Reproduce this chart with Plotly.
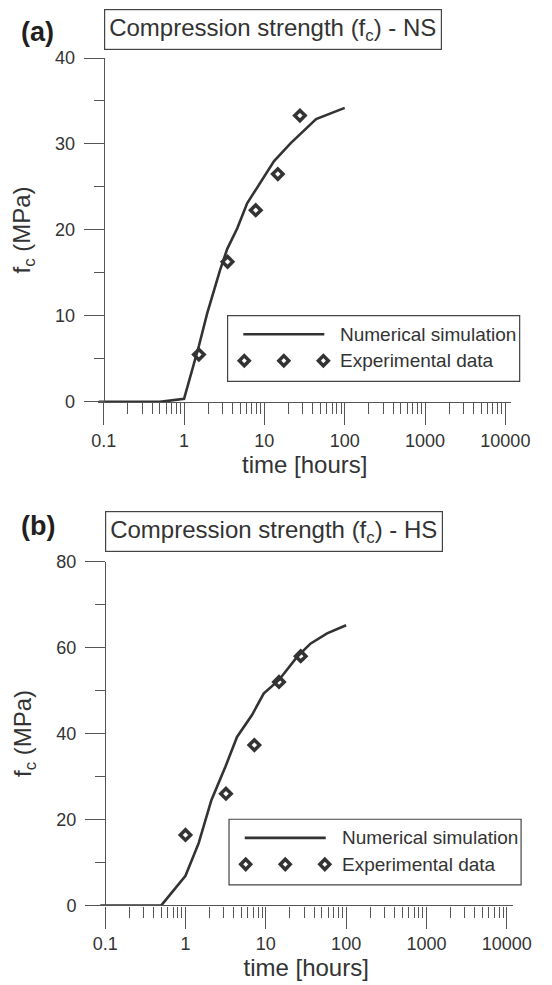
import plotly.graph_objects as go

W, H = 552, 985

# ---------------- data ----------------
ns_sim_t = [0.086, 0.5, 1.0, 1.53, 1.94, 2.8, 3.45, 4.6, 6.1, 8.2, 13.2, 21.3, 34.5, 44, 100]
ns_sim_fc = [0, 0, 0.35, 6.5, 10.3, 15.3, 17.8, 20.2, 23.1, 25.0, 28.0, 30.1, 31.9, 32.9, 34.2]
ns_exp_t = [1.53, 3.48, 7.8, 14.7, 27.7]
ns_exp_fc = [5.5, 16.3, 22.3, 26.5, 33.3]

hs_sim_t = [0.087, 0.5, 1.0, 1.46, 2.1, 3.13, 4.38, 6.73, 9.4, 14.5, 24.5, 35.9, 57.9, 100]
hs_sim_fc = [0, 0, 6.9, 14.5, 24.5, 32.2, 39.2, 44.3, 49.3, 52.4, 57.8, 60.9, 63.3, 65.2]
hs_exp_t = [1.0, 3.19, 7.2, 14.6, 27.2]
hs_exp_fc = [16.4, 26.0, 37.3, 52.0, 58.0]

x_tickvals = [0.1, 1, 10, 100, 1000, 10000]
x_ticktext = ["0.1", "1", "10", "100", "1000", "10000"]
x_minor = [m * 10 ** e for e in range(-1, 4) for m in range(2, 10)]
ns_y_ticks = [0, 10, 20, 30, 40]
hs_y_ticks = [0, 20, 40, 60, 80]

titles = ["Compression strength (f<sub>c</sub>) - NS", "Compression strength (f<sub>c</sub>) - HS"]
panel_labels = ["<b>(a)</b>", "<b>(b)</b>"]
legend_names = ["Numerical simulation", "Experimental data"]

# ---------------- styling / geometry ----------------
FONT = "Liberation Sans, Arial, sans-serif"
DARK = "#333333"
AX = "#555555"
DEC = 84.3  # px per decade


def fx(px):
    return px / W


def fy(py):
    return 1 - py / H


# panel geometry: px of 0.1 tick, px of y top (max), px of y=0, right end
panels = [
    dict(x01=101.5, ytop=49, y0=400, xright=529, ymax=40, yticks=ns_y_ticks, ydt=5,
         label_dy=-27, box_dy=-29),
    dict(x01=103.0, ytop=563, y0=914, xright=530.5, ymax=80, yticks=hs_y_ticks, ydt=10,
         label_dy=-36, box_dy=-31),
]

fig = go.Figure()
series = [(ns_sim_t, ns_sim_fc, ns_exp_t, ns_exp_fc), (hs_sim_t, hs_sim_fc, hs_exp_t, hs_exp_fc)]

shapes = []
annotations = []
layout = {}

for i, (p, (st, sf, et, ef)) in enumerate(zip(panels, series)):
    xa = "x" if i == 0 else "x2"
    ya = "y" if i == 0 else "y2"
    xkey = "xaxis" if i == 0 else "xaxis2"
    ykey = "yaxis" if i == 0 else "yaxis2"
    fig.add_trace(go.Scatter(x=st, y=sf, mode="lines", xaxis=xa, yaxis=ya,
                             line=dict(color=DARK, width=2.6), showlegend=False,
                             name=legend_names[0], cliponaxis=False))
    fig.add_trace(go.Scatter(x=et, y=ef, mode="markers", xaxis=xa, yaxis=ya,
                             marker=dict(symbol="diamond-open", size=8, color=DARK,
                                         line=dict(width=3.5, color=DARK)),
                             showlegend=False, name=legend_names[1], cliponaxis=False))
    left_px = p["x01"] - 5.5
    r0 = -1 - (p["x01"] - left_px) / DEC
    r1 = -1 + (p["xright"] - p["x01"]) / DEC
    layout[xkey] = dict(
        type="log", domain=[fx(left_px), fx(p["xright"])], range=[r0, r1],
        anchor=ya, showgrid=False, zeroline=False, showline=True,
        linecolor=AX, linewidth=1.3,
        tickmode="array", tickvals=x_tickvals, ticktext=x_ticktext,
        ticks="outside", ticklen=22, tickwidth=1.3, tickcolor=AX,
        ticklabelstandoff=0,
        tickfont=dict(family=FONT, size=18, color=DARK),
        minor=dict(tickmode="array", tickvals=x_minor, ticks="outside",
                   ticklen=11, tickwidth=1.3, tickcolor=AX),
        title=dict(text="time [hours]", font=dict(family=FONT, size=24, color=DARK), standoff=6),
    )
    layout[ykey] = dict(
        domain=[fy(p["y0"]), fy(p["ytop"])], range=[0, p["ymax"]],
        anchor="free", position=fx(p["x01"]),
        showgrid=False, zeroline=False, showline=True, linecolor=AX, linewidth=1.3,
        tickmode="array", tickvals=p["yticks"],
        ticks="outside", ticklen=20, tickwidth=1.3, tickcolor=AX,
        ticklabelstandoff=5,
        tickfont=dict(family=FONT, size=18, color=DARK),
        minor=dict(dtick=p["ydt"], tick0=0, ticks="outside", ticklen=10,
                   tickwidth=1.3, tickcolor=AX),
        title=dict(text="f<sub>c</sub> (MPa)", font=dict(family=FONT, size=24, color=DARK), standoff=16),
    )

    # panel label and boxed title
    top = p["ytop"]
    annotations.append(dict(text=panel_labels[i], xref="paper", yref="paper",
                            x=fx(13), y=fy(top + p["label_dy"]), xanchor="left", yanchor="middle",
                            showarrow=False, font=dict(family=FONT, size=27, color="#231f20")))
    annotations.append(dict(text=titles[i], xref="paper", yref="paper",
                            x=fx(p["x01"] + 177.5), y=fy(top + p["box_dy"]), xanchor="center", yanchor="middle",
                            showarrow=False, bordercolor="#444444", borderwidth=1.2, borderpad=4,
                            font=dict(family=FONT, size=24, color=DARK)))

    # hand-built legend (line sample + three open diamonds)
    x01, y0 = p["x01"], p["y0"]
    shapes.append(dict(type="rect", xref="paper", yref="paper",
                       x0=fx(x01 + 130), x1=fx(x01 + 436.5), y0=fy(y0 - 21), y1=fy(y0 - 88),
                       line=dict(color="#444444", width=1.2), fillcolor="rgba(0,0,0,0)"))
    shapes.append(dict(type="line", xref="paper", yref="paper",
                       x0=fx(x01 + 146.5), x1=fx(x01 + 231.5), y0=fy(y0 - 69), y1=fy(y0 - 69),
                       line=dict(color=DARK, width=2.6)))
    h = 5.2
    for dx in (147.5, 189, 230.5):
        cx, cy = x01 + dx, y0 - 42
        path = "M {a},{b} L {c},{d} L {e},{f} L {g},{k} Z".format(
            a=fx(cx), b=fy(cy - h), c=fx(cx + h), d=fy(cy), e=fx(cx), f=fy(cy + h), g=fx(cx - h), k=fy(cy))
        shapes.append(dict(type="path", xref="paper", yref="paper", path=path,
                           line=dict(color=DARK, width=3.5), fillcolor="white"))
    for name, dy in zip(legend_names, (69, 42)):
        annotations.append(dict(text=name, xref="paper", yref="paper",
                                x=fx(x01 + 246), y=fy(y0 - dy), xanchor="left", yanchor="middle",
                                showarrow=False, font=dict(family=FONT, size=19, color=DARK)))

fig.update_layout(
    width=W, height=H, autosize=False,
    margin=dict(l=0, r=0, t=0, b=0),
    paper_bgcolor="white", plot_bgcolor="white",
    showlegend=False, shapes=shapes, annotations=annotations,
    font=dict(family=FONT, color=DARK),
    **layout,
)

fig.write_html("out.html")
